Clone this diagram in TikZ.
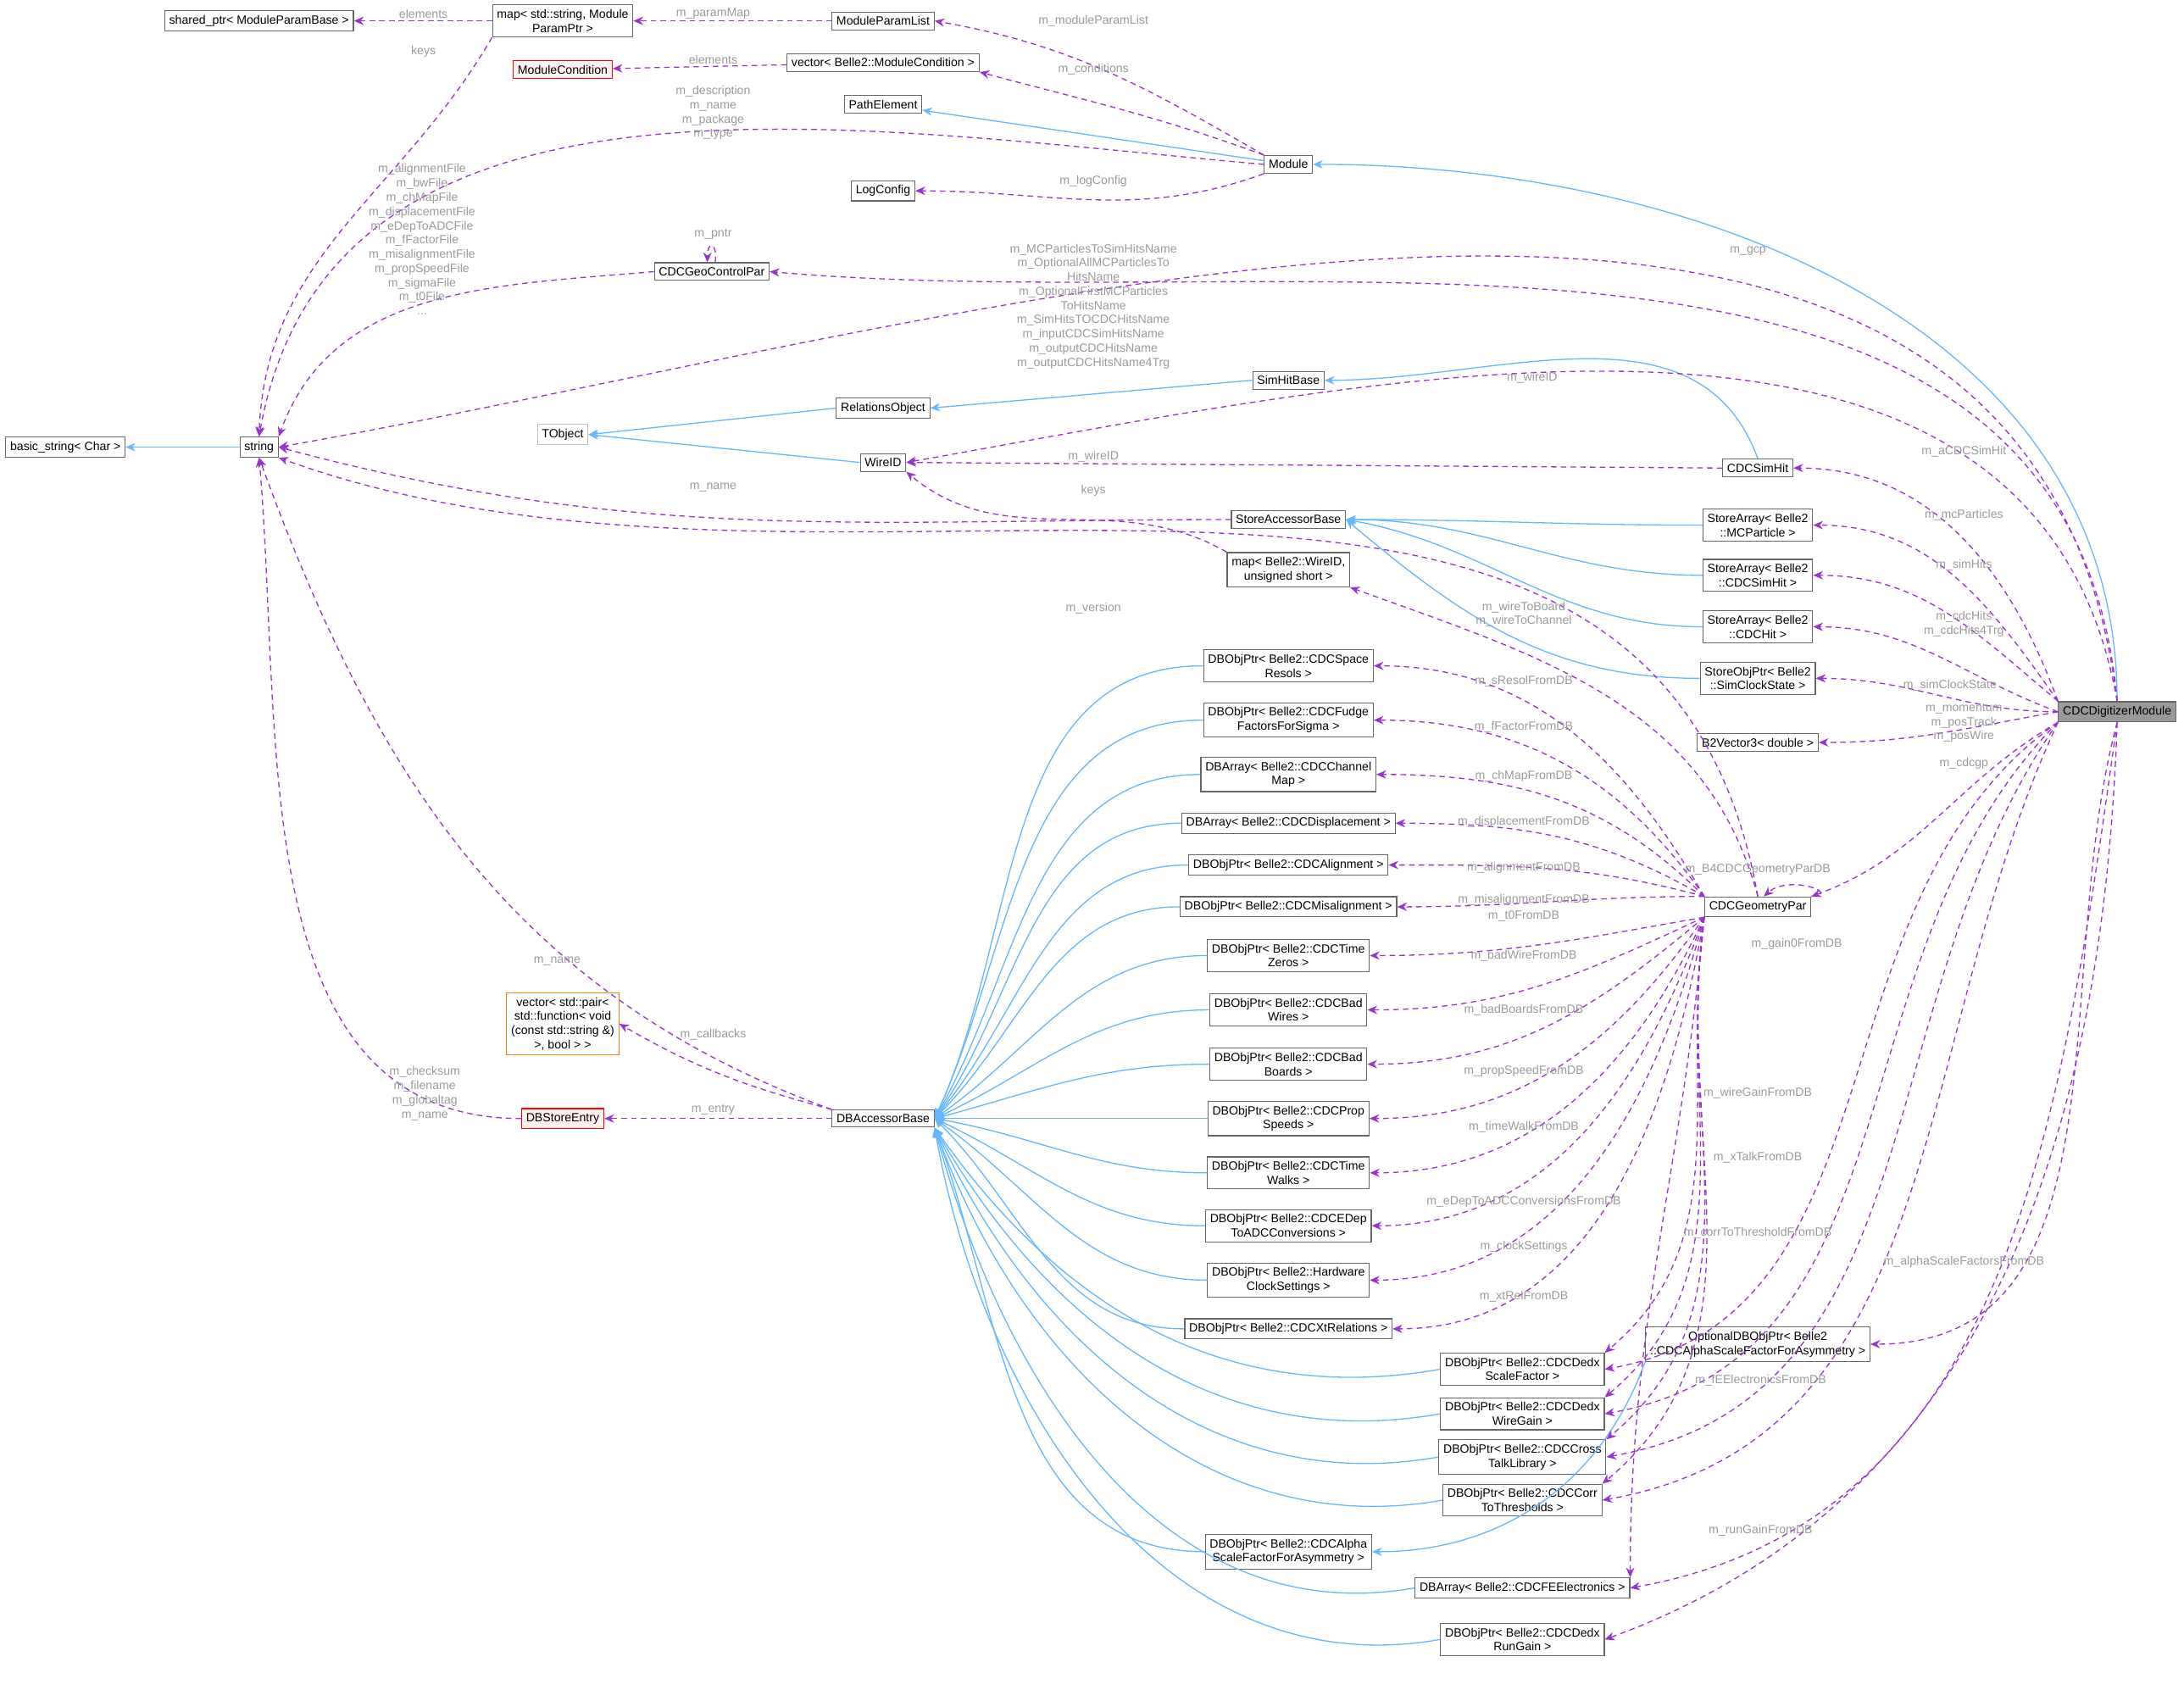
\documentclass[tikz,border=0pt]{standalone}
\usepackage{fontspec}
\setmainfont{Liberation Sans}
\usetikzlibrary{arrows.meta,positioning}
\definecolor{herit}{HTML}{63B8FF}
\definecolor{membre}{HTML}{9A32CD}
\definecolor{etiq}{HTML}{9A9A9A}
\definecolor{cadre}{HTML}{666666}
\tikzset{font={\fontsize{4.3pt}{5.1pt}\selectfont}}
\tikzstyle{classe-std}=[draw=cadre,fill=white,rectangle,inner sep=1.6pt,line width=0.35pt,align=center]
\tikzstyle{classe-rouge}=[classe-std,draw=red,fill=red!6]
\tikzstyle{classe-orange}=[classe-std,draw=orange]
\tikzstyle{classe-gris}=[classe-std,draw=black!25]
\tikzstyle{classe-sel}=[classe-std,fill=black!40]
\tikzstyle{herit-std}=[draw=herit,line width=0.4pt,-{Stealth[length=3.5pt,width=3pt]}]
\tikzstyle{membre-std}=[draw=membre,line width=0.4pt,dashed,dash pattern=on 2pt off 1.5pt,-{Stealth[length=3.5pt,width=3pt]}]
\tikzstyle{etiq-std}=[text=etiq,align=center,inner sep=0pt]
\newcommand{\classe}[3]{\node[classe-std] (#1) at (#2) {#3};}
\newcommand{\etiq}[2]{\node[etiq-std] at (#1) {#2};}
\begin{document}
\begin{tikzpicture}[x=0.5pt,y=-0.5pt]
        \useasboundingbox[fill=white] (0,0) rectangle (1568,1213);
        % left part
        \classe{bstr}{47,321}{basic\_string< Char >}
        \classe{str}{186,321}{string}
        \classe{sptr}{186,15}{shared\_ptr< ModuleParamBase >}
        \classe{pmap}{404,15}{map< std::string, Module\\ParamPtr >}
        \node[classe-rouge] (mcond) at (404,50) {ModuleCondition};
        \classe{plist}{634,15}{ModuleParamList}
        \classe{cvec}{634,45}{vector< Belle2::ModuleCondition >}
        \classe{pelem}{634,75}{PathElement}
        \classe{logc}{634,137}{LogConfig}
        \classe{module}{925,118}{Module}
        \classe{gcp}{511,195}{CDCGeoControlPar}
        \node[classe-gris] (tobj) at (404,312) {TObject};
        \classe{relobj}{634,293}{RelationsObject}
        \classe{wid}{634,332}{WireID}
        \classe{shb}{925,273}{SimHitBase}
        \classe{sacc}{925,373}{StoreAccessorBase}
        \classe{wmap}{925,409}{map< Belle2::WireID,\\unsigned short >}
        \classe{csh}{1262,336}{CDCSimHit}
        \classe{sa1}{1262,377}{StoreArray< Belle2\\::MCParticle >}
        \classe{sa2}{1262,413}{StoreArray< Belle2\\::CDCSimHit >}
        \classe{sa3}{1262,450}{StoreArray< Belle2\\::CDCHit >}
        \classe{sop}{1262,487}{StoreObjPtr< Belle2\\::SimClockState >}
        \classe{b2v}{1262,533}{B2Vector3< double >}
        \node[classe-sel] (dig) at (1520,511) {CDCDigitizerModule};
        \classe{geo}{1262,651}{CDCGeometryPar}
        % db column
        \classe{db1}{925,478}{DBObjPtr< Belle2::CDCSpace\\Resols >}
        \classe{db2}{925,517}{DBObjPtr< Belle2::CDCFudge\\FactorsForSigma >}
        \classe{db3}{925,556}{DBArray< Belle2::CDCChannel\\Map >}
        \classe{db4}{925,591}{DBArray< Belle2::CDCDisplacement >}
        \classe{db5}{925,621}{DBObjPtr< Belle2::CDCAlignment >}
        \classe{db6}{925,651}{DBObjPtr< Belle2::CDCMisalignment >}
        \classe{db7}{925,686}{DBObjPtr< Belle2::CDCTime\\Zeros >}
        \classe{db8}{925,725}{DBObjPtr< Belle2::CDCBad\\Wires >}
        \classe{db9}{925,764}{DBObjPtr< Belle2::CDCBad\\Boards >}
        \classe{db10}{925,803}{DBObjPtr< Belle2::CDCProp\\Speeds >}
        \classe{db11}{925,842}{DBObjPtr< Belle2::CDCTime\\Walks >}
        \classe{db12}{925,880}{DBObjPtr< Belle2::CDCEDep\\ToADCConversions >}
        \classe{db13}{925,919}{DBObjPtr< Belle2::Hardware\\ClockSettings >}
        \classe{db14}{925,954}{DBObjPtr< Belle2::CDCXtRelations >}
        \classe{db15}{1093,983}{DBObjPtr< Belle2::CDCDedx\\ScaleFactor >}
        \classe{db16}{1093,1015}{DBObjPtr< Belle2::CDCDedx\\WireGain >}
        \classe{db17}{1093,1046}{DBObjPtr< Belle2::CDCCross\\TalkLibrary >}
        \classe{db18}{1093,1077}{DBObjPtr< Belle2::CDCCorr\\ToThresholds >}
        \classe{db19}{925,1114}{DBObjPtr< Belle2::CDCAlpha\\ScaleFactorForAsymmetry >}
        \classe{db20}{1093,1140}{DBArray< Belle2::CDCFEElectronics >}
        \classe{db21}{1093,1177}{DBObjPtr< Belle2::CDCDedx\\RunGain >}
        \classe{opt}{1262,965}{OptionalDBObjPtr< Belle2\\::CDCAlphaScaleFactorForAsymmetry >}
        \classe{dbacc}{634,803}{DBAccessorBase}
        \node[classe-orange] (vpair) at (404,735) {vector< std::pair<\\std::function< void\\(const std::string \&)\\>, bool > >};
        \node[classe-rouge] (dbse) at (404,803) {DBStoreEntry};
        %
        % inheritance
        \draw[herit-std] (str) -- (bstr);
        \draw[herit-std] (module) -- (pelem);
        \draw[herit-std] (dig.north) to[out=90,in=0] (module.east);
        \draw[herit-std] (relobj.west) -- (tobj.east);
        \draw[herit-std] (wid.west) -- (tobj.east);
        \draw[herit-std] (shb.west) -- (relobj.east);
        \draw[herit-std] (csh.north) to[out=110,in=0] (shb.east);
        \draw[herit-std] (sa1.west) to[out=180,in=0] (sacc.east);
        \draw[herit-std] (sa2.west) to[out=180,in=0] (sacc.east);
        \draw[herit-std] (sa3.west) to[out=180,in=-10] (sacc.east);
        \draw[herit-std] (sop.west) to[out=180,in=-40] (sacc.east);
        \foreach \d/\a in {db1/65,db2/65,db3/60,db4/55,db5/50,db6/45,db7/35,db8/25,db9/15,db10/0,db11/-10,db12/-25,db13/-35,db14/-45}
            \draw[herit-std] (\d.west) to[out=180,in=\a] (dbacc.east);
        \foreach \d/\a in {db15/-55,db16/-60,db17/-65,db18/-70,db20/-75,db21/-80}
            \draw[herit-std] (\d.west) to[out=190,in=\a] (dbacc.south east);
        \draw[herit-std] (db19.west) to[out=180,in=-70] (dbacc.south east);
        \draw[herit-std] (opt.south west) to[out=-110,in=0] (db19.east);
        %
        % members
        \draw[membre-std] (pmap) -- (sptr);
        \draw[membre-std] (pmap.south west) to[out=-120,in=88] (str.north);
        \draw[membre-std] (plist) -- (pmap);
        \draw[membre-std] (cvec) -- (mcond);
        \draw[membre-std] (module.north west) to[out=150,in=-10] (plist.east);
        \draw[membre-std] (module.north west) to[out=160,in=-15] (cvec.south east);
        \draw[membre-std] (module.west) to[out=175,in=80] (str.north);
        \draw[membre-std] (module.south west) to[out=-160,in=0] (logc.east);
        \draw[membre-std] (gcp.west) to[out=185,in=70] (str.north east);
        \draw[membre-std] (gcp.70) .. controls +(2,-14) and +(0,-16) .. (gcp.115);
        \draw[membre-std] (dig.north) to[out=95,in=-5] (gcp.east);
        \draw[membre-std] (dig.north) to[out=97,in=10] (str.east);
        \draw[membre-std] (dig.north) to[out=100,in=10] (wid.east);
        \draw[membre-std] (csh.west) -- (wid.east);
        \draw[membre-std] (sacc.west) to[out=180,in=-15] (str.east);
        \draw[membre-std] (wmap.north west) to[out=150,in=-40] (wid.south east);
        \draw[membre-std] (dig.north west) to[out=110,in=0] (csh.east);
        \draw[membre-std] (dig.north west) to[out=125,in=0] (sa1.east);
        \draw[membre-std] (dig.north west) to[out=140,in=0] (sa2.east);
        \draw[membre-std] (dig.west) to[out=160,in=0] (sa3.east);
        \draw[membre-std] (dig.west) to[out=180,in=0] (sop.east);
        \draw[membre-std] (dig.west) to[out=190,in=0] (b2v.east);
        \draw[membre-std] (dig.south west) to[out=210,in=20] (geo.north east);
        \draw[membre-std] (geo.north) to[out=100,in=-20] (str.south east);
        \draw[membre-std] (geo.north) to[out=105,in=-20] (wmap.south east);
        \foreach \d/\a in {db1/120,db2/125,db3/135,db4/150,db5/165,db6/180}
            \draw[membre-std] (geo.north west) to[out=\a,in=0] (\d.east);
        \foreach \d/\a in {db7/190,db8/205,db9/220,db10/235,db11/245,db12/250,db13/255,db14/260}
            \draw[membre-std] (geo.south west) to[out=\a,in=0] (\d.east);
        \draw[membre-std] (geo.north east) .. controls +(22,-2) and +(18,-16) .. (geo.60);
        \draw[membre-std] (geo.south west) to[out=265,in=90] (db20.north east);
        \foreach \d in {db15,db16,db17,db18}
            \draw[membre-std] (geo.south west) to[out=262,in=40] (\d.north east);
        \draw[membre-std] (dbacc.north west) to[out=160,in=-70] (str.south);
        \draw[membre-std] (dbacc.north west) to[out=165,in=-30] (vpair.east);
        \draw[membre-std] (dbacc) -- (dbse);
        \draw[membre-std] (dbse.west) to[out=180,in=-85] (str.south);
        \draw[membre-std] (dig.south west) to[out=215,in=10] (db15.east);
        \draw[membre-std] (dig.south west) to[out=225,in=10] (db16.east);
        \draw[membre-std] (dig.south west) to[out=235,in=10] (db17.east);
        \draw[membre-std] (dig.south west) to[out=245,in=10] (db18.east);
        \draw[membre-std] (dig.south) to[out=255,in=0] (opt.east);
        \draw[membre-std] (dig.south) to[out=262,in=10] (db20.east);
        \draw[membre-std] (dig.south) to[out=268,in=20] (db21.east);
        %
        % labels
        \etiq{304,10}{elements}
        \etiq{304,37}{keys}
        \etiq{512,10}{m\_paramMap}
        \etiq{512,43}{elements}
        \etiq{785,15}{m\_moduleParamList}
        \etiq{785,50}{m\_conditions}
        \etiq{512,81}{m\_description\\m\_name\\m\_package\\m\_type}
        \etiq{785,130}{m\_logConfig}
        \etiq{512,168}{m\_pntr}
        \etiq{303,172}{m\_alignmentFile\\m\_bwFile\\m\_chMapFile\\m\_displacementFile\\m\_eDepToADCFile\\m\_fFactorFile\\m\_misalignmentFile\\m\_propSpeedFile\\m\_sigmaFile\\m\_t0File\\...}
        \etiq{1255,180}{m\_gcp}
        \etiq{785,220}{m\_MCParticlesToSimHitsName\\m\_OptionalAllMCParticlesTo\\HitsName\\m\_OptionalFirstMCParticles\\ToHitsName\\m\_SimHitsTOCDCHitsName\\m\_inputCDCSimHitsName\\m\_outputCDCHitsName\\m\_outputCDCHitsName4Trg}
        \etiq{1100,271}{m\_wireID}
        \etiq{785,328}{m\_wireID}
        \etiq{512,350}{m\_name}
        \etiq{785,352}{keys}
        \etiq{1410,324}{m\_aCDCSimHit}
        \etiq{1410,370}{m\_mcParticles}
        \etiq{1410,406}{m\_simHits}
        \etiq{1410,448}{m\_cdcHits\\m\_cdcHits4Trg}
        \etiq{1400,492}{m\_simClockState}
        \etiq{1410,519}{m\_momentum\\m\_posTrack\\m\_posWire}
        \etiq{1410,548}{m\_cdcgp}
        \etiq{785,437}{m\_version}
        \etiq{1094,441}{m\_wireToBoard\\m\_wireToChannel}
        \etiq{1094,489}{m\_sResolFromDB}
        \etiq{1094,522}{m\_fFactorFromDB}
        \etiq{1094,557}{m\_chMapFromDB}
        \etiq{1094,590}{m\_displacementFromDB}
        \etiq{1094,623}{m\_alignmentFromDB}
        \etiq{1094,646}{m\_misalignmentFromDB}
        \etiq{1094,658}{m\_t0FromDB}
        \etiq{1094,686}{m\_badWireFromDB}
        \etiq{1094,725}{m\_badBoardsFromDB}
        \etiq{1094,769}{m\_propSpeedFromDB}
        \etiq{1094,809}{m\_timeWalkFromDB}
        \etiq{1094,863}{m\_eDepToADCConversionsFromDB}
        \etiq{1094,895}{m\_clockSettings}
        \etiq{1094,931}{m\_xtRelFromDB}
        \etiq{1262,624}{m\_B4CDCGeometryParDB}
        \etiq{1290,678}{m\_gain0FromDB}
        \etiq{1262,785}{m\_wireGainFromDB}
        \etiq{1262,831}{m\_xTalkFromDB}
        \etiq{1262,885}{m\_corrToThresholdFromDB}
        \etiq{1410,906}{m\_alphaScaleFactorsFromDB}
        \etiq{1264,991}{m\_fEElectronicsFromDB}
        \etiq{1264,1099}{m\_runGainFromDB}
        \etiq{512,743}{m\_callbacks}
        \etiq{400,690}{m\_name}
        \etiq{512,797}{m\_entry}
        \etiq{305,785}{m\_checksum\\m\_filename\\m\_globaltag\\m\_name}
    \end{tikzpicture}
\end{document}
